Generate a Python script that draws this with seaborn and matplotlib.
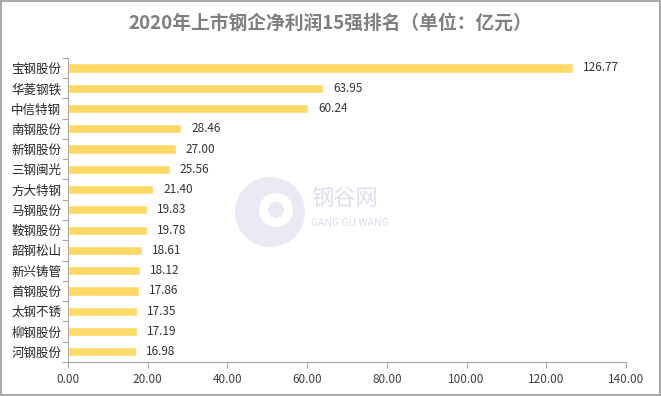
import matplotlib
matplotlib.use("Agg")
import pandas as pd
import seaborn as sns
import matplotlib.pyplot as plt
from matplotlib.patches import Rectangle, Ellipse

companies = ["宝钢股份", "华菱钢铁", "中信特钢", "南钢股份", "新钢股份", "三钢闽光",
             "方大特钢", "马钢股份", "鞍钢股份", "韶钢松山", "新兴铸管", "首钢股份",
             "太钢不锈", "柳钢股份", "河钢股份"]
profits = [126.77, 63.95, 60.24, 28.46, 27.00, 25.56, 21.40, 19.83, 19.78,
           18.61, 18.12, 17.86, 17.35, 17.19, 16.98]
xticks = [0, 20, 40, 60, 80, 100, 120, 140]

sns.set_theme(style="white")
plt.rcParams["font.family"] = ["Noto Sans CJK SC", "DejaVu Sans"]

df = pd.DataFrame({"company": companies, "profit": profits})

W, H = 661, 396
fig = plt.figure(figsize=(W / 100, H / 100), dpi=100)
ax = fig.add_axes([0.103, 0.086, 0.844, 0.768])

# faint watermark logo
cx, cy, r = 270 / W, 1 - 212 / H, 35
fig.patches.append(Ellipse((cx, cy), 2 * r / W, 2 * r / H, transform=fig.transFigure,
                           facecolor="#e9e9f3", edgecolor="none", zorder=0, figure=fig))
fig.patches.append(Ellipse((cx + 6 / W, cy + 2 / H), 34 / W, 34 / H, transform=fig.transFigure,
                           facecolor="white", edgecolor="none", zorder=0, figure=fig))
fig.patches.append(Ellipse((cx + 6 / W, cy + 2 / H), 16 / W, 16 / H, transform=fig.transFigure,
                           facecolor="#e9e9f3", edgecolor="none", zorder=0, figure=fig))
fig.text(311 / W, 1 - 198 / H, "钢谷网", fontsize=16, color="#dedeec", va="center", ha="left", zorder=0)
fig.text(311 / W, 1 - 223 / H, "GANG GU WANG", fontsize=7.5, color="#dedeec", va="center", ha="left", zorder=0)

sns.barplot(data=df, x="profit", y="company", orient="h", color="#FFD966",
            width=0.45, saturation=1, ax=ax, zorder=2)
ax.patch.set_alpha(0)

for i, v in enumerate(profits):
    ax.text(v + 2.5, i, f"{v:.2f}", va="center", ha="left", fontsize=8.5, color="#333333")

ax.set_xlim(0, 140)
ax.set_ylim(len(companies) - 0.5, -0.5)
ax.set_xticks(xticks)
ax.set_xticklabels([f"{t:.2f}" for t in xticks], fontsize=8.5, color="#404040")
ax.set_yticks(range(len(companies)))
ax.set_yticklabels(companies, fontsize=9, color="#262626")
ax.set_yticks([i - 0.5 for i in range(len(companies) + 1)], minor=True)
ax.tick_params(axis="y", which="major", length=0, pad=5)
ax.tick_params(axis="y", which="minor", length=4, color="#a6a6a6", width=0.8, direction="out", left=True)
ax.tick_params(axis="x", which="major", length=4, color="#a6a6a6", width=0.8, direction="out", bottom=True, pad=4)
ax.set_xlabel("")
ax.set_ylabel("")
for side in ["top", "right"]:
    ax.spines[side].set_visible(False)
for side in ["left", "bottom"]:
    ax.spines[side].set_color("#a6a6a6")
    ax.spines[side].set_linewidth(0.8)

fig.suptitle("2020年上市钢企净利润15强排名（单位：亿元）", x=0.5, y=0.965,
             fontsize=13.5, fontweight="bold", color="#7f7f7f")

fig.patches.append(Rectangle((0.001, 0.002), 0.997, 0.995, transform=fig.transFigure,
                             fill=False, edgecolor="#999999", linewidth=1.2, figure=fig))

fig.savefig("out.png", dpi=100)
